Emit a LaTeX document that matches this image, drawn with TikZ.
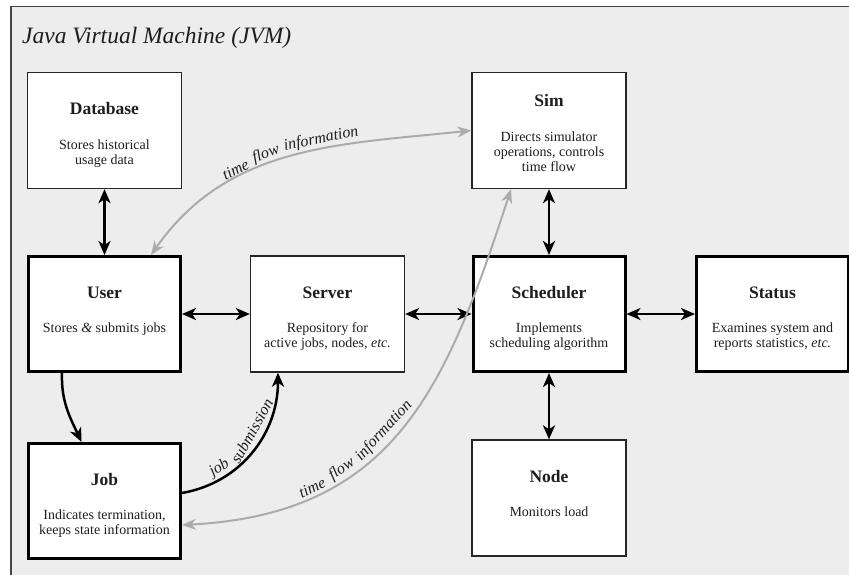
\documentclass[tikz,border=0pt]{standalone}
\usepackage{fontspec}
\setmainfont{Liberation Serif}
\usetikzlibrary{arrows.meta,calc}
\definecolor{framebg}{HTML}{EDEDED}
\definecolor{frameln}{HTML}{444444}
\definecolor{flowgray}{HTML}{ABABAB}
\definecolor{txt}{HTML}{1E1E1E}
\newcommand{\boxlines}[1]{\begin{tabular}[t]{@{}c@{}}#1\end{tabular}}
\begin{document}
\begin{tikzpicture}[x=1pt,y=1pt,
  box/.style={draw=black!85, line width=1.3pt, fill=white, minimum width=154pt, minimum height=116pt, inner sep=0pt},
  thickbox/.style={box, draw=black, line width=3pt, minimum width=152pt, minimum height=115pt},
  ttl/.style={anchor=base, font=\bfseries\fontsize{17.5}{17.5}\selectfont, text=txt, inner sep=0pt},
  bdy/.style={anchor=base, font=\fontsize{14}{15}\selectfont, text=txt, inner sep=0pt},
  lbl/.style={sloped, anchor=south, inner sep=1.5pt, font=\itshape\fontsize{16}{16}\selectfont, text=txt},
  link/.style={line width=2.5pt, draw=black, arrows={Stealth[length=14pt,width=12pt,inset=4pt]-Stealth[length=14pt,width=12pt,inset=4pt]}},
  onearrow/.style={line width=2.5pt, draw=black, arrows={-Stealth[length=14pt,width=12pt,inset=4pt]}},
  flow/.style={line width=2pt, draw=flowgray, arrows={Stealth[length=14pt,width=11pt,inset=4.5pt]-Stealth[length=14pt,width=11pt,inset=4.5pt]}},
]
\useasboundingbox (0,0) rectangle (849,-574);
\fill[white] (0,0) rectangle (849,-574);
\draw[fill=framebg, draw=frameln, line width=1.5pt] (11,-6.5) rectangle (890,-610);

\node[anchor=base west, font=\itshape\fontsize{23.5}{23.5}\selectfont, text=txt, inner sep=0pt] (jvm) at (22,-43) {Java Virtual Machine (JVM)};

% boxes
\node[box] (db) at (104.5,-130.5) {};
\node[box] (sim) at (549,-130.5) {};
\node[thickbox] (user) at (104.5,-314) {};
\node[box] (server) at (327.5,-314) {};
\node[thickbox] (sched) at (549,-314) {};
\node[thickbox] (status) at (772.5,-314) {};
\node[thickbox] (job) at (104.5,-501) {};
\node[box] (nd) at (549,-498) {};

% texts
\node[ttl] (dbT) at ($(db.north)+(0,-43)$) {Database};
\node[bdy] (dbB) at ($(db.north)+(0,-78)$) {\boxlines{Stores historical\\usage data}};
\node[ttl] (simT) at ($(sim.north)+(0,-35)$) {Sim};
\node[bdy] (simB) at ($(sim.north)+(0,-70)$) {\boxlines{Directs simulator\\operations, controls\\time flow}};
\node[ttl] (userT) at ($(user.north)+(0,-43)$) {User};
\node[bdy] (userB) at ($(user.north)+(0,-77)$) {Stores \textit{\&} submits jobs};
\node[ttl] (serverT) at ($(server.north)+(0,-43)$) {Server};
\node[bdy] (serverB) at ($(server.north)+(0,-77)$) {\boxlines{Repository for\\active jobs, nodes, \textit{etc.}}};
\node[ttl] (schedT) at ($(sched.north)+(0,-43)$) {Scheduler};
\node[bdy] (schedB) at ($(sched.north)+(0,-77)$) {\boxlines{Implements\\scheduling algorithm}};
\node[ttl] (statusT) at ($(status.north)+(0,-43)$) {Status};
\node[bdy] (statusB) at ($(status.north)+(0,-77)$) {\boxlines{Examines system and\\reports statistics, \textit{etc.}}};
\node[ttl] (jobT) at ($(job.north)+(0,-43)$) {Job};
\node[bdy] (jobB) at ($(job.north)+(0,-77)$) {\boxlines{Indicates termination,\\keeps state information}};
\node[ttl] (ndT) at ($(nd.north)+(0,-43)$) {Node};
\node[bdy] (ndB) at ($(nd.north)+(0,-77)$) {Monitors load};

% black connectors
\draw[link] (db.south) -- (user.north);
\draw[link] (user.east) -- (server.west);
\draw[link] (server.east) -- (sched.west);
\draw[link] (sched.east) -- (status.west);
\draw[link] (sim.south) -- (sched.north);
\draw[link] (sched.south) -- (nd.north);
\draw[onearrow] ($(user.south)+(-42.5,0)$) to[out=-92,in=115] ($(job.north)+(-23,0)$);
\draw[onearrow] ($(job.east)+(0,8)$) to[out=10,in=-90]
  node[lbl, pos=0.27] (js1) {job}
  node[lbl, pos=0.61, inner sep=5pt] (js2) {submission}
  ($(server.south)+(-49.5,0)$);

% gray time flow connectors
\draw[flow] ($(user.north)+(46.5,0)$) to[out=55,in=186]
  node[lbl, pos=0.335] (tfa1) {time}
  node[lbl, pos=0.435] (tfa2) {flow}
  node[lbl, pos=0.6] (tfa3) {information}
  (sim.west);
\draw[flow] ($(job.east)+(0,-24)$) to[out=3,in=252,looseness=1.15]
  node[lbl, pos=0.255] (tfb1) {time}
  node[lbl, pos=0.335] (tfb2) {flow}
  node[lbl, pos=0.47, inner sep=3pt] (tfb3) {information}
  ($(sim.south)+(-38,0)$);
\end{tikzpicture}
\end{document}
